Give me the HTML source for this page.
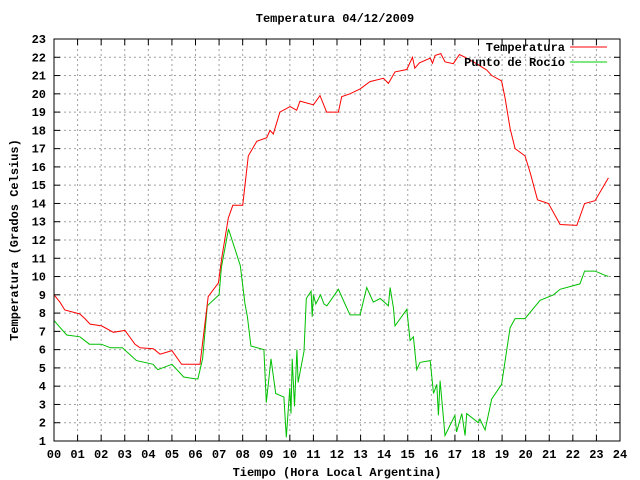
<!DOCTYPE html>
<html><head><meta charset="utf-8"><style>
body{margin:0;background:#fff}
svg{display:block;font-family:"Liberation Mono",monospace;font-weight:bold;font-size:12px}
</style></head><body>
<svg id="chart" width="640" height="480" xmlns="http://www.w3.org/2000/svg">
<rect width="640" height="480" fill="#fff"/>
<text x="335" y="22" text-anchor="middle">Temperatura 04/12/2009</text>
<g id="grid"></g>
<g id="ticks"></g>
<g id="series"></g>
<rect x="54" y="39" width="566" height="402" fill="none" stroke="#000" stroke-width="1"/>
<text x="337" y="476" text-anchor="middle">Tiempo (Hora Local Argentina)</text>
<text x="0" y="0" text-anchor="middle" transform="translate(18,240) rotate(-90)">Temperatura (Grados Celsius)</text>
<g>
<text x="565" y="51" text-anchor="end">Temperatura</text>
<line x1="570" y1="47" x2="607" y2="47" stroke="#f00"/>
<text x="565" y="66" text-anchor="end">Punto de Rocío</text>
<line x1="570" y1="62" x2="607" y2="62" stroke="#0c0"/>
</g>
</svg>
<script>
const xTickLabels=["00","01","02","03","04","05","06","07","08","09","10","11","12","13","14","15","16","17","18","19","20","21","22","23","24"];
const yTickLabels=[1,2,3,4,5,6,7,8,9,10,11,12,13,14,15,16,17,18,19,20,21,22,23];
const tempHours=[0,0.25,0.46,1.1,1.31,1.53,2.02,2.52,3.01,3.43,3.65,4.21,4.5,5.0,5.41,6.19,6.54,6.97,7.11,7.39,7.58,8.0,8.24,8.6,9.02,9.16,9.3,9.58,10.01,10.29,10.43,11.0,11.28,11.56,12.06,12.2,12.55,12.98,13.4,13.97,14.18,14.46,14.96,15.2,15.3,15.5,15.95,16.05,16.16,16.4,16.58,16.93,17.19,17.43,17.92,18.35,18.56,18.98,19.13,19.34,19.55,19.97,20.19,20.5,20.97,21.46,22.17,22.5,22.94,23.51];
const tempValues=[9.0,8.6,8.17,7.95,7.7,7.4,7.3,6.95,7.05,6.3,6.1,6.05,5.75,5.95,5.2,5.2,8.9,9.65,11.0,13.2,13.9,13.9,16.6,17.4,17.6,18.0,17.8,19.0,19.3,19.1,19.6,19.4,19.9,19.0,19.0,19.85,20.0,20.27,20.67,20.85,20.57,21.2,21.33,22.0,21.4,21.7,21.95,21.67,22.1,22.2,21.75,21.65,22.15,22.0,21.65,21.3,21.0,20.7,19.76,18.1,17.0,16.6,15.7,14.2,14.0,12.85,12.8,14.0,14.15,15.4];
const dewHours=[0,0.2,0.54,1.1,1.5,2.0,2.4,2.9,3.5,4.2,4.4,5.0,5.5,6.0,6.1,6.3,6.5,7.0,7.1,7.4,7.9,8.1,8.2,8.35,8.9,9.0,9.2,9.4,9.75,9.85,10.0,10.05,10.1,10.2,10.3,10.35,10.6,10.7,10.9,10.95,11.0,11.1,11.3,11.45,11.57,12.06,12.34,12.55,12.98,13.26,13.54,13.83,14.18,14.25,14.39,14.46,14.96,15.1,15.24,15.38,15.52,15.95,16.09,16.23,16.3,16.37,16.58,17.0,17.07,17.29,17.43,17.5,17.99,18.06,18.28,18.56,18.98,19.2,19.34,19.55,19.97,20.61,21.18,21.46,22.3,22.5,22.94,23.3,23.51];
const dewValues=[7.6,7.3,6.8,6.7,6.3,6.3,6.1,6.1,5.4,5.2,4.9,5.2,4.5,4.4,4.4,5.5,8.4,9.0,10.5,12.6,10.6,8.5,7.8,6.2,6.0,3.1,5.5,3.6,3.4,1.2,3.9,2.5,5.5,2.9,6.0,4.2,5.9,8.8,9.2,7.8,9.0,8.5,9.0,8.5,8.4,9.3,8.5,7.9,7.9,9.4,8.6,8.8,8.4,9.4,8.3,7.3,8.2,6.5,6.7,4.9,5.3,5.4,3.6,4.1,2.4,4.3,1.3,2.4,1.5,2.5,1.3,2.5,2.0,2.2,1.6,3.3,4.1,6.0,7.2,7.7,7.7,8.7,9.0,9.3,9.6,10.3,10.3,10.1,10.0];

const X0=54,X1=620,Y0=441,Y1=39;
const xs=h=>X0+(X1-X0)*h/24;
const ys=v=>Y0-(Y0-Y1)*(v-1)/22;
const NS="http://www.w3.org/2000/svg";
const grid=document.getElementById('grid'),ticks=document.getElementById('ticks'),series=document.getElementById('series');
function mk(tag,attrs,parent){const e=document.createElementNS(NS,tag);for(const k in attrs)e.setAttribute(k,attrs[k]);parent.appendChild(e);return e;}
xTickLabels.forEach((lab,i)=>{
  const x=xs(i);
  if(i>0&&i<24){const g=mk('line',{x1:x,y1:Y0,x2:x,y2:Y1,stroke:'#a0a0a0','stroke-dasharray':'2,3'},grid);
  
  }
  const t=mk('line',{x1:x,y1:Y0,x2:x,y2:Y0-6,stroke:'#000'},ticks);
  
  
  const t2=mk('line',{x1:x,y1:Y1,x2:x,y2:Y1+6,stroke:'#000'},ticks);
  
  
  const l=mk('text',{x:x,y:458,'text-anchor':'middle'},ticks);l.textContent=lab;
  
  
});
yTickLabels.forEach(v=>{
  const y=ys(v);
  if(v>1&&v<23){const g=mk('line',{x1:X0,y1:y,x2:X1,y2:y,stroke:'#a0a0a0','stroke-dasharray':'2,3'},grid);
  
  }
  const t=mk('line',{x1:X0,y1:y,x2:X0+6,y2:y,stroke:'#000'},ticks);
  
  
  const t2=mk('line',{x1:X1,y1:y,x2:X1-6,y2:y,stroke:'#000'},ticks);
  
  
  const l=mk('text',{x:46,y:y+4,'text-anchor':'end'},ticks);l.textContent=v;
  
  
});
function line(hs,vs,color,name){
  const pts=hs.map((h,i)=>xs(h).toFixed(1)+','+ys(vs[i]).toFixed(1)).join(' ');
  const p=mk('polyline',{points:pts,fill:'none',stroke:color,'stroke-width':1},series);
  
  
}
line(dewHours,dewValues,'#00c000','dew-point-line');
line(tempHours,tempValues,'#ff0000','temperature-line');
</script>
</body></html>
